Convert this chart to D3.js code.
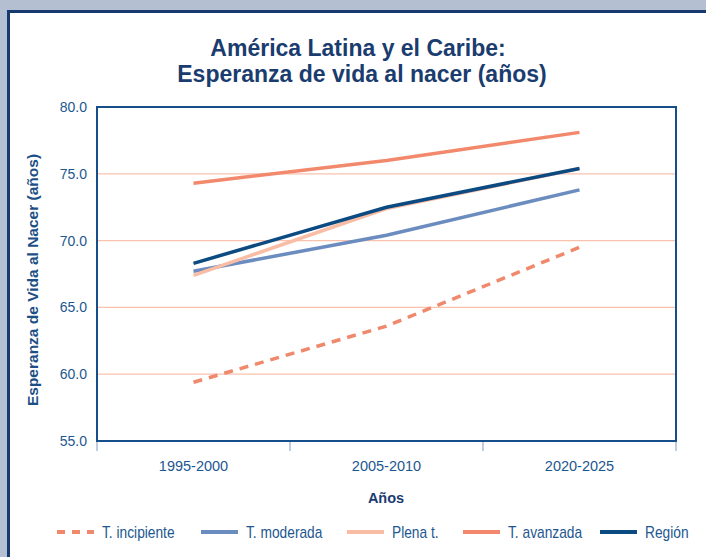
<!DOCTYPE html>
<html>
<head>
<meta charset="utf-8">
<script src="https://cdn.jsdelivr.net/npm/d3@7"></script>
<style>
  body { margin: 0; padding: 0; background: #b4bfd2; }
  svg { display: block; }
</style>
</head>
<body>
<div id="chart"></div>
<script>
'use strict';

// categories and series
let years = ['1995-2000', '2005-2010', '2020-2025'];
let series_names = ['T. incipiente', 'T. moderada', 'Plena t.', 'T. avanzada', 'Región'];
let t_incipiente = [59.4, 63.6, 69.5];
let t_moderada = [67.7, 70.4, 73.8];
let plena_t = [67.4, 72.4, 75.4];
let t_avanzada = [74.3, 76.0, 78.1];
let region = [68.3, 72.5, 75.4];
let y_ticks = [55, 60, 65, 70, 75, 80];
let grid_vals = [60, 65, 70, 75];

let width = 706, height = 557;
let margin = {left: 97, right: 30, top: 107, bottom: 116};

let navy = '#1a3c6e', axis_blue = '#1d5790';
let font = '"Liberation Sans", Arial, sans-serif';

let series = [
    {name: series_names[0], values: t_incipiente, colour: '#f0896c', dash: '9,7'},
    {name: series_names[1], values: t_moderada, colour: '#6b8cbf', dash: null},
    {name: series_names[2], values: plena_t, colour: '#f9bca5', dash: null},
    {name: series_names[3], values: t_avanzada, colour: '#f2896d', dash: null},
    {name: series_names[4], values: region, colour: '#0c4a82', dash: null}
];

let svg = d3.select('#chart').append('svg')
    .attr('width', width)
    .attr('height', height);

// outer panel
svg.append('rect').attr('width', width).attr('height', height).attr('fill', '#b4bfd2');
svg.append('rect')
    .attr('x', 8.5).attr('y', 11.5)
    .attr('width', width + 20).attr('height', height + 20)
    .attr('fill', '#ffffff')
    .attr('stroke', '#163a6e')
    .attr('stroke-width', 3);

// title
let title = svg.append('text')
    .attr('x', 361).attr('y', 56)
    .attr('text-anchor', 'middle')
    .attr('fill', navy)
    .style('font-family', font)
    .style('font-weight', 'bold')
    .style('font-size', '23px');
title.append('tspan').attr('x', 358).text('América Latina y el Caribe:');
title.append('tspan').attr('x', 362).attr('dy', 26).text('Esperanza de vida al nacer (años)');

let x = d3.scaleBand()
    .domain(years)
    .range([margin.left, width - margin.right])
    .padding(0);

let y = d3.scaleLinear()
    .domain([55, 80])
    .range([height - margin.bottom, margin.top]);

let plot_w = width - margin.right - margin.left;

// grid
svg.append('g')
    .selectAll('line')
    .data(grid_vals)
    .enter().append('line')
    .attr('x1', margin.left).attr('x2', width - margin.right)
    .attr('y1', function(d) { return y(d); })
    .attr('y2', function(d) { return y(d); })
    .attr('stroke', '#f8c2ae')
    .attr('stroke-width', 1.2);

// y axis labels
let y_axis = svg.append('g')
    .attr('transform', 'translate(' + margin.left + ',0)')
    .call(d3.axisLeft(y).tickValues(y_ticks).tickFormat(d3.format('.1f')).tickSize(0).tickPadding(10));
y_axis.select('.domain').remove();
y_axis.selectAll('text')
    .attr('fill', axis_blue)
    .style('font-family', font)
    .style('font-size', '14px');

// x axis: ticks on band edges, labels at band centres
let x_axis = svg.append('g')
    .attr('transform', 'translate(0,' + y(55) + ')');
let edges = years.map(function(d) { return x(d); }).concat([width - margin.right]);
x_axis.selectAll('line.tick')
    .data(edges)
    .enter().append('line')
    .attr('class', 'tick')
    .attr('x1', function(d) { return d; }).attr('x2', function(d) { return d; })
    .attr('y1', 0).attr('y2', 10)
    .attr('stroke', '#7f9cc0')
    .attr('stroke-width', 1);
x_axis.selectAll('text')
    .data(years)
    .enter().append('text')
    .attr('x', function(d) { return x(d) + x.bandwidth() / 2; })
    .attr('y', 30)
    .attr('text-anchor', 'middle')
    .attr('fill', axis_blue)
    .style('font-family', font)
    .style('font-size', '14.5px')
    .text(function(d) { return d; });

// plot frame
svg.append('rect')
    .attr('x', margin.left).attr('y', margin.top)
    .attr('width', plot_w).attr('height', y(55) - margin.top)
    .attr('fill', 'none')
    .attr('stroke', '#154e88')
    .attr('stroke-width', 2);

// axis titles
svg.append('text')
    .attr('x', 386).attr('y', 503)
    .attr('text-anchor', 'middle')
    .attr('fill', navy)
    .style('font-family', font)
    .style('font-weight', 'bold')
    .style('font-size', '14.5px')
    .text('Años');

svg.append('text')
    .attr('transform', 'translate(38,280) rotate(-90)')
    .attr('text-anchor', 'middle')
    .attr('fill', '#1d4f86')
    .style('font-family', font)
    .style('font-weight', 'bold')
    .style('font-size', '15.5px')
    .text('Esperanza de Vida al Nacer (años)');

// lines
let line = d3.line()
    .x(function(d, i) { return x(years[i]) + x.bandwidth() / 2; })
    .y(function(d) { return y(d); });

svg.append('g')
    .selectAll('path')
    .data(series)
    .enter().append('path')
    .attr('d', function(d) { return line(d.values); })
    .attr('fill', 'none')
    .attr('stroke', function(d) { return d.colour; })
    .attr('stroke-width', 3.5)
    .attr('stroke-dasharray', function(d) { return d.dash; });

// legend (text squeezed a bit to look like the condensed face of the original)
let legend_x = [57, 201, 347, 463, 600];
let legend = svg.append('g')
    .selectAll('g')
    .data(series)
    .enter().append('g')
    .attr('transform', function(d, i) { return 'translate(' + legend_x[i] + ',532)'; });
legend.append('line')
    .attr('x1', 0).attr('x2', 37)
    .attr('y1', 0).attr('y2', 0)
    .attr('stroke', function(d) { return d.colour; })
    .attr('stroke-width', 4)
    .attr('stroke-dasharray', function(d) { return d.dash ? '8,7' : null; });
legend.append('text')
    .attr('transform', 'translate(45,5.5) scale(0.86,1)')
    .attr('fill', axis_blue)
    .style('font-family', font)
    .style('font-size', '16px')
    .text(function(d) { return d.name; });
</script>
</body>
</html>
